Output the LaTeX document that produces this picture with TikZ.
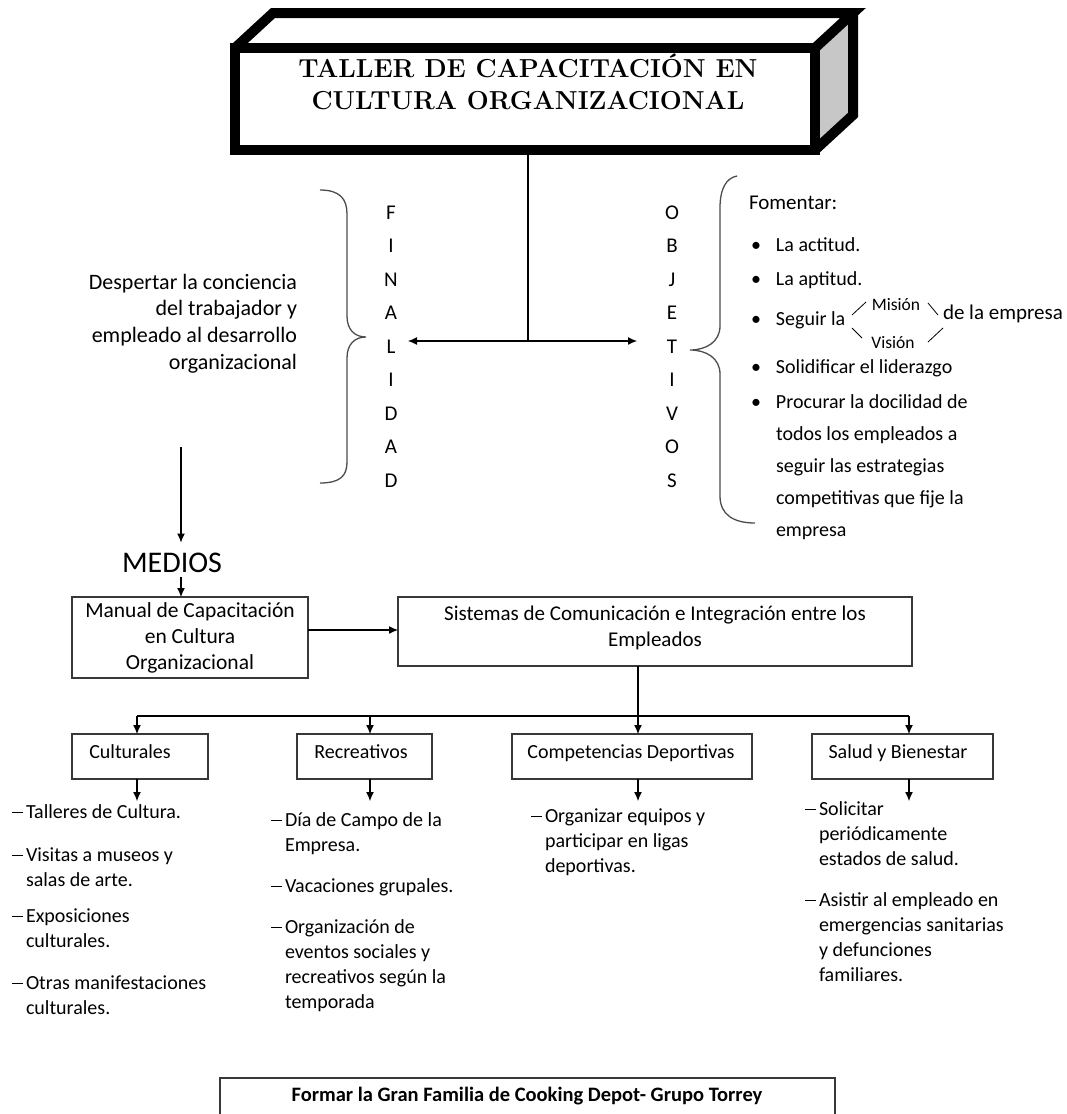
\documentclass[tikz,border=0pt]{standalone}
\usepackage{fontspec}
\newfontfamily\carl{Carlito}
\usetikzlibrary{arrows.meta}
\newcommand\fsz[2]{\fontsize{#1}{#2}\selectfont}
\newcommand\sr{\rule{0pt}{20pt}}
\newcommand\dsh{\makebox[14pt][l]{\raisebox{4.6pt}{\rule{11pt}{1.1pt}}}}
\newcommand\ind{\hspace*{14pt}}
\newcommand\bul{\makebox[25pt][l]{•}}
\begin{document}
\begin{tikzpicture}[x=1pt,y=-1pt,
  txt/.style={inner sep=0pt, outer sep=0pt, font=\carl\fsz{20}{25}, text=black},
  lst/.style={txt, anchor=north west, align=left},
  box/.style={draw=black!78, line width=1.4pt, inner sep=0pt, outer sep=0pt},
  arr/.style={-{Latex[length=9pt,width=8pt]}, line width=1.1pt},
  dbl/.style={{Latex[length=9pt,width=8pt]}-{Latex[length=9pt,width=8pt]}, line width=1.1pt},
  ln/.style={line width=1.1pt},
  brace/.style={draw=black!70, line width=1.3pt},
  col/.style={txt, anchor=north, align=center, font=\carl\fsz{21}{33.5}}]
\useasboundingbox (0,0) rectangle (1066,1114);
\clip (0,0) rectangle (1066,1114);

% ---------- title block (3D box) ----------
\coordinate (j) at (528,341);
\node[inner sep=0pt, outer sep=0pt, minimum width=580pt, minimum height=102pt, fill=white] (title) at (525,99) {};
\draw[ln] (title.south -| j) -- (j);
\fill[black!22] (title.north east) -- ++(38,-35) -- ++(0,102) -- (title.south east) -- cycle;
\draw[line width=10pt, line join=miter] (title.north west) -- ++(38,-35) -- ++(580,0) -- (title.north east);
\draw[line width=10pt, line join=miter] (title.north east) ++(38,-35) -- ++(0,102) -- (title.south east);
\draw[line width=10pt, line join=miter] (title.north west) rectangle (title.south east);
\node[inner sep=0pt, font=\bfseries\fsz{26}{32}, align=center] (ttl) at (528,82)
  {TALLER DE CAPACITACIÓN EN\\CULTURA ORGANIZACIONAL};

% ---------- finalidad / objetivos ----------
\node[col] (fin) at (391,199) {\sr F\\I\\N\\A\\L\\I\\D\\A\\D};
\node[col] (obj) at (672,199) {\sr O\\B\\J\\E\\T\\I\\V\\O\\S};
\coordinate (fl) at (408,341);
\coordinate (or) at (637,341);
\draw[dbl] (fl) -- (or);

% braces
\draw[brace] (320,190) .. controls (340,190) and (347,199) .. (347,214) -- (347,316)
  .. controls (347,330) and (355,337) .. (366,337)
  .. controls (355,337) and (347,344) .. (347,358) -- (347,462)
  .. controls (347,476) and (340,483) .. (320,483);
\draw[brace] (737,176) .. controls (726,178) and (720,189) .. (720,208) -- (720,326)
  .. controls (720,342) and (706,350) .. (690,350)
  .. controls (706,350) and (720,358) .. (720,374) -- (720,496)
  .. controls (720,515) and (734,523) .. (755,523);

\node[txt, anchor=north east, align=right, font=\carl\fsz{22}{26.7}] (desp) at (297,269)
  {\sr Despertar la conciencia\\del trabajador y\\empleado al desarrollo\\organizacional};

\node[lst, font=\carl\fsz{21}{25}] (fom) at (749,189) {\sr Fomentar:};
\node[lst] (o1) at (751,231) {\sr\bul La actitud.};
\node[lst] (o2) at (751,265) {\sr\bul La aptitud.};
\node[lst] (o3) at (751,305) {\sr\bul Seguir la};
\node[txt, font=\carl\fsz{17.5}{20}] (mis) at (896,305) {Misión};
\node[txt, font=\carl\fsz{17.5}{20}] (vis) at (893,343) {Visión};
\node[lst, font=\carl\fsz{21}{25}] (emp) at (943,299) {\sr de la empresa};
\draw[line width=0.8pt] (852,315) -- (866,302) (852,328) -- (862,338)
  (928,303) -- (938,315) (928,342) -- (943,328);
\node[lst] (o4) at (751,353) {\sr\bul Solidificar el liderazgo};
\node[lst, font=\carl\fsz{20}{32}] (o5) at (751,388)
  {\sr\bul Procurar la docilidad de\\\hspace*{25pt}todos los empleados a\\\hspace*{25pt}seguir las estrategias\\\hspace*{25pt}competitivas que fije la\\\hspace*{25pt}empresa};

% ---------- medios ----------
\node[txt, anchor=base, font=\carl\fsz{30}{32}] (medios) at (172,572) {MEDIOS};
\coordinate (d0) at (181,447);
\draw[arr, shorten >=10pt] (d0) -- (medios.north -| d0);

\node[box, minimum width=236pt, minimum height=81pt, align=center, font=\carl\fsz{21.5}{26}] (manual) at (190,637.5)
  {Manual de Capacitación\\en Cultura\\Organizacional};
\node[box, minimum width=514pt, minimum height=69pt] (sist) at (655,631.5) {};
\node[txt, anchor=north, align=center, font=\carl\fsz{21}{26}] (sisttxt) at (655,600)
  {\sr Sistemas de Comunicación e Integración entre los\\Empleados};
\draw[arr, shorten <=5pt] (medios.south -| d0) -- (manual.north -| d0);
\coordinate (c1) at (0,630);
\draw[arr] (manual.east |- c1) -- (sist.west |- c1);

% ---------- categories ----------
\node[box, minimum width=136pt, minimum height=45pt] (cult) at (140,756.5) {};
\node[box, minimum width=135pt, minimum height=45pt] (recr) at (364.5,756.5) {};
\node[box, minimum width=240pt, minimum height=45pt] (comp) at (632,756.5) {};
\node[box, minimum width=181pt, minimum height=45pt] (salud) at (902.5,756.5) {};
\node[txt, anchor=north] (cultt) at (130,738) {\sr Culturales};
\node[txt, anchor=north] (recrt) at (361,738) {\sr Recreativos};
\node[txt, anchor=north] (compt) at (631,738) {\sr Competencias Deportivas};
\node[txt, anchor=north] (saludt) at (898,738) {\sr Salud y Bienestar};

\coordinate (b1) at (137,716);
\coordinate (b2) at (370,716);
\coordinate (b3) at (638,716);
\coordinate (b4) at (909,716);
\draw[ln] (sist.south -| b3) -- (b3);
\draw[ln] (b1) -- (b4);
\draw[arr] (b1) -- (cult.north -| b1);
\draw[arr] (b2) -- (recr.north -| b2);
\draw[arr] (b3) -- (comp.north -| b3);
\draw[arr] (b4) -- (salud.north -| b4);
\draw[arr] (cult.south -| b1) -- ++(0,22);
\draw[arr] (recr.south -| b2) -- ++(0,22);
\draw[arr] (comp.south -| b3) -- ++(0,22);
\draw[arr] (salud.south -| b4) -- ++(0,22);

% ---------- lists ----------
\node[lst] (c1t) at (12,798) {\sr\dsh Talleres de Cultura.};
\node[lst] (c2t) at (12,841) {\sr\dsh Visitas a museos y\\\ind salas de arte.};
\node[lst] (c3t) at (12,902) {\sr\dsh Exposiciones\\\ind culturales.};
\node[lst] (c4t) at (12,969) {\sr\dsh Otras manifestaciones\\\ind culturales.};

\node[lst] (r1t) at (271,806) {\sr\dsh Día de Campo de la\\\ind Empresa.};
\node[lst] (r2t) at (271,872) {\sr\dsh Vacaciones grupales.};
\node[lst] (r3t) at (271,913) {\sr\dsh Organización de\\\ind eventos sociales y\\\ind recreativos según la\\\ind temporada};

\node[lst] (p1t) at (531,802) {\sr\dsh Organizar equipos y\\\ind participar en ligas\\\ind deportivas.};

\node[lst] (s1t) at (805,795) {\sr\dsh Solicitar\\\ind periódicamente\\\ind estados de salud.};
\node[lst] (s2t) at (805,886) {\sr\dsh Asistir al empleado en\\\ind emergencias sanitarias\\\ind y defunciones\\\ind familiares.};

% ---------- closing box ----------
\node[box, minimum width=615pt, minimum height=70pt] (fam) at (527.5,1113) {};
\node[txt, anchor=north, font=\carl\bfseries\fsz{20.5}{25}] (famt) at (527,1081) {\sr Formar la Gran Familia de Cooking Depot- Grupo Torrey};
\end{tikzpicture}
\end{document}
